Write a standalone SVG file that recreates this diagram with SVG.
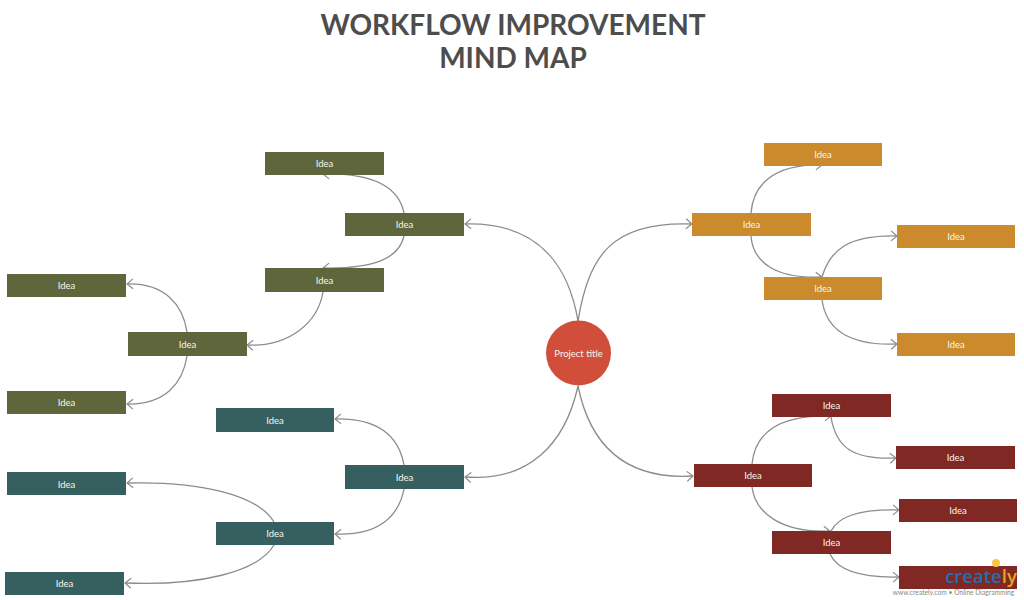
<svg xmlns="http://www.w3.org/2000/svg" width="1024" height="600" viewBox="0 0 1024 600">
<defs>
<marker id="arr" markerUnits="userSpaceOnUse" markerWidth="12" markerHeight="14" refX="9" refY="7" orient="auto"><path d="M3 2 L9 7 L3 12" fill="none" stroke="#8c8c8c" stroke-width="1.2"/></marker>
</defs>
<style>
text{font-family:Lato,"Open Sans","Liberation Sans",sans-serif;text-anchor:middle}
.t{font-size:28px;font-weight:700;fill:#4d4d4d}
.l{font-size:9.500px;fill:#f6f5ee}
.c path{fill:none;stroke:#8c8c8c;stroke-width:1.3;marker-end:url(#arr)}
.o{fill:#5f663c}.g{fill:#36605f}.y{fill:#cb8a2b}.r{fill:#802823}
</style>
<rect width="1024" height="600" fill="#fff"/>
<g id="title"><text class="t" x="513" y="35">WORKFLOW IMPROVEMENT</text><text class="t" x="513" y="68">MIND MAP</text></g>
<g id="connectors" class="c">
<path d="M578 321C568 262 535 222 465 224"/>
<path d="M578 321C589 255 612 221 692 224"/>
<path d="M578 386C565 445 528 482 465 477"/>
<path d="M578 386C590 445 625 480 693 476"/>
<path d="M404 213C399 188 375 173 323 174"/>
<path d="M404 236C399 258 375 269 323 268"/>
<path d="M323 292C318 322 290 347 247 345"/>
<path d="M187 332C183 305 165 283 127 284"/>
<path d="M187 356C183 383 165 405 127 404"/>
<path d="M404 465C399 438 380 418 335 419"/>
<path d="M404 489C399 515 380 536 335 534"/>
<path d="M274 522C258 495 200 481 127 483"/>
<path d="M274 545C258 572 200 586 125 583"/>
<path d="M751 213C753 186 772 164 822 165"/>
<path d="M751 236C753 262 775 279 822 277"/>
<path d="M822 277C830 250 848 235 897 236"/>
<path d="M822 300C826 328 848 346 897 344"/>
<path d="M752 464C755 435 775 415 831 416"/>
<path d="M752 487C755 512 780 533 830 531"/>
<path d="M831 417C836 447 852 460 896 458"/>
<path d="M831 531C838 518 855 509 899 510"/>
<path d="M830 554C836 567 855 578 899 577"/>
</g>
<g id="center"><circle cx="578.500" cy="353" r="32.500" fill="#d14f3a"/><text class="l" x="578.500" y="357">Project title</text></g>
<g id="o1"><rect class="o" x="265" y="152" width="119" height="23"/><text class="l" x="324.500" y="167">Idea</text></g>
<g id="o2"><rect class="o" x="345" y="213" width="119" height="23"/><text class="l" x="404.500" y="228">Idea</text></g>
<g id="o3"><rect class="o" x="265" y="268" width="119" height="24"/><text class="l" x="324.500" y="284">Idea</text></g>
<g id="o4"><rect class="o" x="7" y="274" width="119" height="23"/><text class="l" x="66.500" y="289">Idea</text></g>
<g id="o5"><rect class="o" x="128" y="332" width="119" height="24"/><text class="l" x="187.500" y="348">Idea</text></g>
<g id="o6"><rect class="o" x="7" y="391" width="119" height="23"/><text class="l" x="66.500" y="406">Idea</text></g>
<g id="g1"><rect class="g" x="216" y="408" width="118" height="24"/><text class="l" x="275" y="424">Idea</text></g>
<g id="g2"><rect class="g" x="345" y="465" width="119" height="24"/><text class="l" x="404.500" y="481">Idea</text></g>
<g id="g3"><rect class="g" x="216" y="522" width="118" height="23"/><text class="l" x="275" y="537">Idea</text></g>
<g id="g4"><rect class="g" x="7" y="472" width="119" height="23"/><text class="l" x="66.500" y="488">Idea</text></g>
<g id="g5"><rect class="g" x="5" y="572" width="119" height="23"/><text class="l" x="64.500" y="587">Idea</text></g>
<g id="y1"><rect class="y" x="764" y="143" width="118" height="23"/><text class="l" x="823" y="158">Idea</text></g>
<g id="y2"><rect class="y" x="692" y="213" width="119" height="23"/><text class="l" x="751.500" y="228">Idea</text></g>
<g id="y3"><rect class="y" x="764" y="277" width="118" height="23"/><text class="l" x="823" y="292">Idea</text></g>
<g id="y4"><rect class="y" x="897" y="225" width="118" height="23"/><text class="l" x="956" y="240">Idea</text></g>
<g id="y5"><rect class="y" x="897" y="333" width="118" height="23"/><text class="l" x="956" y="348">Idea</text></g>
<g id="r1"><rect class="r" x="772" y="394" width="119" height="23"/><text class="l" x="831.500" y="409">Idea</text></g>
<g id="r2"><rect class="r" x="694" y="464" width="118" height="23"/><text class="l" x="753" y="479">Idea</text></g>
<g id="r3"><rect class="r" x="772" y="531" width="119" height="23"/><text class="l" x="831.500" y="546">Idea</text></g>
<g id="r4"><rect class="r" x="896" y="446" width="119" height="23"/><text class="l" x="955.500" y="461">Idea</text></g>
<g id="r5"><rect class="r" x="899" y="499" width="118" height="23"/><text class="l" x="958" y="514">Idea</text></g>
<g id="r6"><rect class="r" x="899" y="566" width="118" height="23"/></g>
<g id="logo"><circle cx="996" cy="563" r="4" fill="#f2c94c"/><text x="981" y="583" font-size="18.500" font-weight="600" style="font-family:'Open Sans',sans-serif" fill="#1f6fb2">create<tspan fill="#e8a323">ly</tspan></text><text x="953.500" y="595" font-size="6.700" fill="#888">www.creately.com • Online Diagramming</text></g>
</svg>
